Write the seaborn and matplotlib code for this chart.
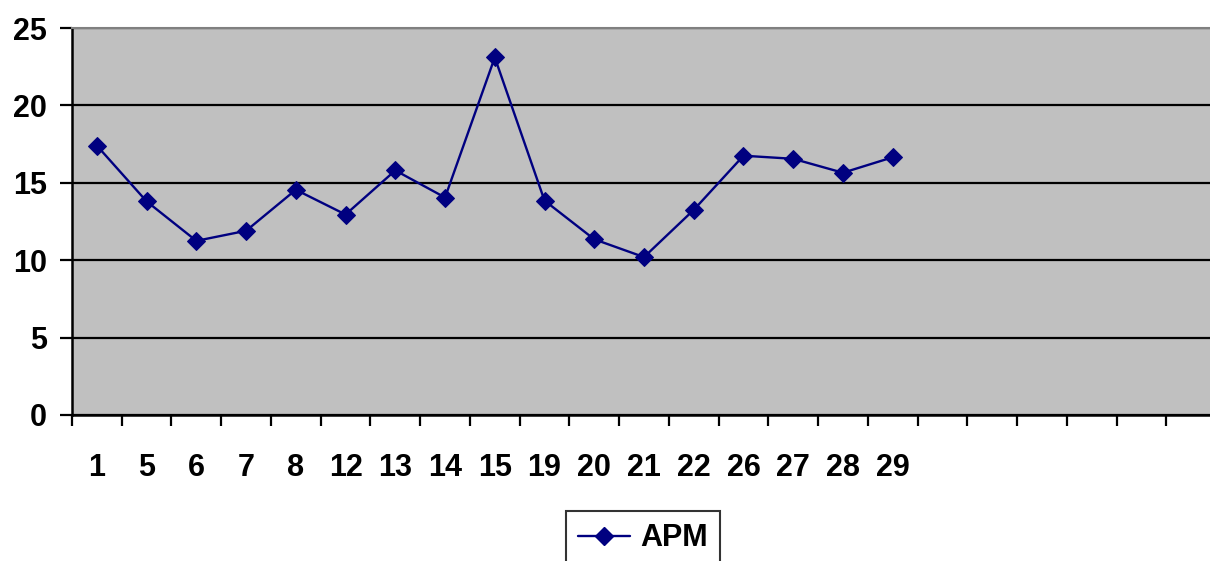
import matplotlib
matplotlib.use("Agg")
import matplotlib.pyplot as plt
import seaborn as sns
import pandas as pd
import numpy as np
from matplotlib.ticker import FixedLocator, MultipleLocator
from matplotlib.lines import Line2D

categories = ["1", "5", "6", "7", "8", "12", "13", "14", "15", "19", "20",
              "21", "22", "26", "27", "28", "29"]
apm = [17.4, 13.8, 11.25, 11.9, 14.55, 12.95, 15.8, 14.05, 23.1, 13.85, 11.35,
       10.2, 13.25, 16.75, 16.55, 15.65, 16.65]
n_slots = 23

sns.set_theme(style="white")
plt.rcParams['font.family'] = ['Liberation Sans', 'DejaVu Sans']
plt.rcParams['text.color'] = 'black'

df = pd.DataFrame({"pos": np.arange(len(categories)), "APM": apm, "series": "APM"})

fig = plt.figure(figsize=(12.1, 5.61), dpi=100)
W, H = 1210, 561
left, right, top, bottom = 72, 1216, 28, 415
ax = fig.add_axes([left / W, 1 - bottom / H, (right - left) / W, (bottom - top) / H])
ax.set_facecolor("#c0c0c0")

line_color = "#000080"
sns.lineplot(data=df, x="pos", y="APM", color=line_color,
             marker="D", markersize=9, linewidth=1.7, markeredgecolor=line_color,
             ax=ax, legend=False)

ax.set_xlim(-0.5, n_slots - 0.5)
ax.set_ylim(0, 25)
ax.yaxis.set_major_locator(MultipleLocator(5))
ax.yaxis.grid(True, color="black", linewidth=1.6)
ax.xaxis.grid(False)
ax.set_axisbelow(True)

ax.xaxis.set_major_locator(FixedLocator(list(range(len(categories)))))
ax.set_xticklabels(categories)
ax.xaxis.set_minor_locator(FixedLocator([i - 0.5 for i in range(n_slots + 1)]))
ax.tick_params(axis="x", which="major", bottom=True, length=0, pad=27, labelsize=22,
               labelcolor="black")
ax.tick_params(axis="x", which="minor", bottom=True, length=8, width=1.6,
               color="black", direction="out")
ax.tick_params(axis="y", which="major", left=True, length=9, width=1.6, color="black",
               direction="out", pad=9, labelsize=22, labelcolor="black")
for lab in ax.get_xticklabels() + ax.get_yticklabels():
    lab.set_fontweight("bold")

for s in ["left", "bottom"]:
    ax.spines[s].set_color("black")
    ax.spines[s].set_linewidth(1.8)
ax.spines["top"].set_color("#808080")
ax.spines["top"].set_linewidth(1.5)
ax.spines["right"].set_visible(False)

ax.set_xlabel("")
ax.set_ylabel("")

handle = Line2D([], [], color=line_color, marker="D", markersize=9, linewidth=1.7,
                markeredgecolor=line_color)
leg = ax.legend([handle], ["APM"], loc="upper center", bbox_to_anchor=(643 / W, 1 - 511 / H),
                bbox_transform=fig.transFigure, frameon=True, fancybox=False,
                prop={"weight": "bold", "size": 22}, handlelength=1.7,
                borderpad=0.4, handletextpad=0.35, borderaxespad=0)
leg.get_frame().set_edgecolor("black")
leg.get_frame().set_linewidth(1.5)
for t in leg.get_texts():
    t.set_color("black")

fig.savefig("out.png", dpi=100, facecolor="white")
